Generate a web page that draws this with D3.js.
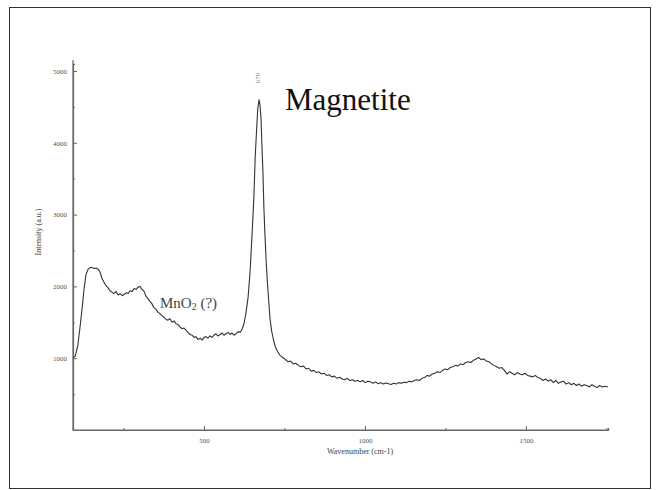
<!DOCTYPE html>
<html><head><meta charset="utf-8">
<script src="https://cdn.jsdelivr.net/npm/d3@7"></script>
<style>body{margin:0;background:#fff}svg{display:block}text{font-family:"Liberation Serif","DejaVu Serif",serif}</style>
</head><body>
<script>
const xTicks = [500, 1000, 1500];
const xMinor = [250, 750, 1250, 1750];
const yTicks = [1000, 2000, 3000, 4000, 5000];
const yMinor = [500, 1500, 2500, 3500, 4500];
const wavenumber = [93,100,108,114,121,127,133,140,146,152,158,165,171,177,183,189,196,202,208,214,220,227,233,239,246,252,258,264,270,277,283,289,295,301,307,314,320,326,332,338,345,351,357,363,370,376,382,388,394,401,407,413,419,425,432,438,444,450,457,463,469,475,481,488,494,500,506,512,519,525,531,537,543,550,556,562,568,575,581,587,593,599,606,612,618,624,630,637,643,649,655,659,663,667,671,674,677,680,683,686,689,693,697,701,705,710,716,722,729,736,745,753,761,769,777,785,793,801,809,817,825,833,841,849,857,865,873,881,889,897,905,913,921,929,937,945,953,961,969,977,985,993,1001,1009,1017,1025,1033,1041,1049,1057,1065,1073,1081,1089,1097,1105,1113,1121,1129,1137,1145,1153,1161,1169,1177,1185,1193,1201,1209,1217,1225,1233,1241,1249,1257,1265,1273,1281,1289,1297,1305,1313,1321,1329,1337,1345,1353,1361,1369,1377,1385,1393,1401,1409,1417,1425,1433,1441,1449,1457,1465,1473,1481,1489,1497,1505,1513,1521,1529,1537,1545,1553,1561,1569,1577,1585,1593,1601,1609,1617,1625,1633,1641,1649,1657,1665,1673,1681,1689,1697,1705,1713,1721,1729,1737,1745,1755];
const intensity = [1000,1030,1180,1400,1680,1950,2160,2240,2260,2265,2250,2255,2240,2200,2110,2060,2010,1980,1940,1920,1900,1930,1880,1900,1870,1890,1910,1900,1940,1930,1970,1960,1990,2000,1960,1930,1860,1830,1790,1760,1700,1680,1640,1620,1590,1570,1540,1530,1550,1500,1520,1480,1470,1440,1410,1420,1390,1360,1330,1320,1290,1300,1260,1280,1250,1290,1300,1280,1310,1290,1320,1340,1310,1330,1350,1320,1340,1360,1330,1350,1320,1340,1370,1360,1400,1480,1620,1850,2200,2700,3250,3800,4150,4480,4600,4520,4350,3950,3600,3100,2750,2350,2050,1800,1550,1380,1250,1150,1090,1040,1010,980,950,960,920,930,900,880,890,850,860,820,830,800,810,780,790,760,770,740,750,720,735,710,700,720,690,700,680,690,670,690,660,680,670,650,670,645,660,640,655,645,635,650,640,660,650,665,660,680,670,690,700,690,720,730,760,750,780,790,810,800,830,850,840,870,880,900,890,920,910,940,950,940,970,990,1010,980,990,960,950,920,900,880,860,870,830,780,810,790,770,800,780,770,790,760,750,740,760,730,720,690,710,680,700,660,690,650,670,680,640,660,630,650,620,640,610,630,620,600,630,610,590,620,600,610,600];

const W = 660, H = 490;
const svg = d3.select("body").append("svg").attr("width", W).attr("height", H);
svg.append("rect").attr("x", 9.5).attr("y", 7.5).attr("width", 641).attr("height", 481)
  .attr("fill", "none").attr("stroke", "#333").attr("stroke-width", 1);

const x = d3.scaleLinear().domain([93, 1755]).range([73, 608]);
const y = d3.scaleLinear().domain([0, 5100]).range([430, 63.8]);
const serif = "Liberation Serif";

const xAxis = svg.append("g").attr("transform", "translate(0,430)")
  .call(d3.axisBottom(x).tickValues(xTicks).tickSize(-4).tickPadding(8).tickFormat(d3.format("d")));
svg.append("g").attr("transform", "translate(0,430)")
  .call(d3.axisBottom(x).tickValues(xMinor).tickSize(-2).tickFormat(""));
const yAxis = svg.append("g").attr("transform", "translate(73,0)")
  .call(d3.axisLeft(y).tickValues(yTicks).tickSize(-4).tickPadding(6).tickFormat(d3.format("d")));
svg.append("g").attr("transform", "translate(73,0)")
  .call(d3.axisLeft(y).tickValues(yMinor).tickSize(-2).tickFormat(""));
svg.selectAll(".domain").attr("stroke", "#666").attr("stroke-width", 1.2);
svg.selectAll(".tick line").attr("stroke", "#666");
svg.selectAll(".tick text").attr("font-family", serif).attr("font-size", 7).attr("fill", "#555");
xAxis.select(".domain").attr("d", "M73,0H608");
yAxis.select(".domain").attr("d", "M0,430V60");

const pts = wavenumber.map((w, i) => [w, intensity[i]]);
svg.append("path").datum(pts)
  .attr("fill", "none").attr("stroke", "#333").attr("stroke-width", 1.1)
  .attr("stroke-linejoin", "round")
  .attr("d", d3.line().x(d => x(d[0])).y(d => y(d[1])));

svg.append("text").attr("x", 360).attr("y", 454).attr("text-anchor", "middle")
  .attr("font-family", serif).attr("font-size", 8).attr("fill", "#444").text("Wavenumber (cm-1)");
svg.append("text").attr("transform", "translate(41,232) rotate(-90)").attr("text-anchor", "middle")
  .attr("font-family", serif).attr("font-size", 8).attr("fill", "#444").text("Intensity (a.u.)");

svg.append("text").attr("x", 285).attr("y", 110).attr("font-family", serif)
  .attr("font-size", 31).attr("fill", "#111").text("Magnetite");
const mn = svg.append("text").attr("x", 160).attr("y", 308).attr("font-family", serif)
  .attr("font-size", 15).attr("fill", "#444");
mn.append("tspan").text("MnO");
mn.append("tspan").attr("font-size", 10).attr("dy", 2).text("2");
mn.append("tspan").attr("dy", -2).text(" (?)");
svg.append("text").attr("transform", "translate(260,78) rotate(-90)").attr("text-anchor", "middle")
  .attr("font-family", serif).attr("font-size", 7).attr("fill", "#888").text("670");
</script>
</body></html>
